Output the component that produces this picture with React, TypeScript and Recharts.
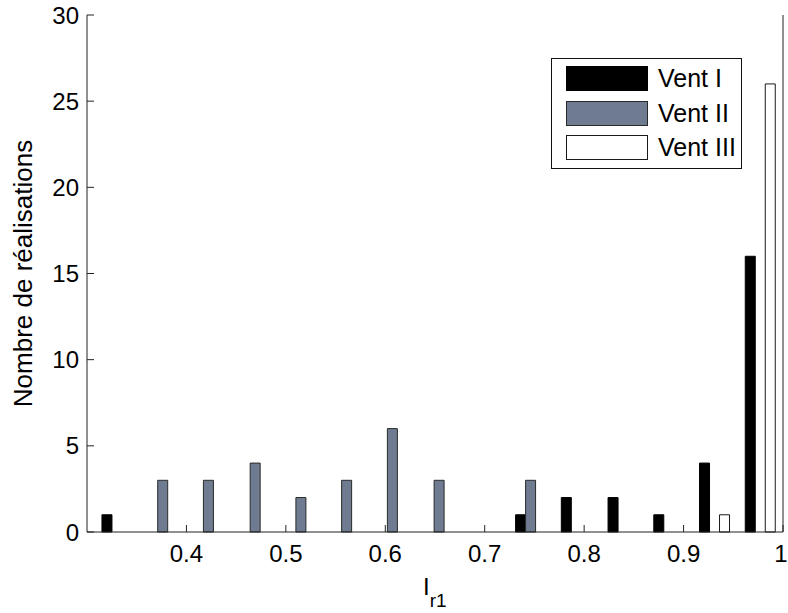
import { Bar, BarChart, Legend, XAxis, YAxis } from "recharts";

// histogram bin centres (I_r1) and counts per wind case
const binCenters = [0.33, 0.376, 0.422, 0.469, 0.515, 0.561, 0.607, 0.654, 0.7, 0.746, 0.792, 0.839, 0.885, 0.931, 0.977];
const ventI = [1, 0, 0, 0, 0, 0, 0, 0, 0, 1, 2, 2, 1, 4, 16];
const ventII = [0, 3, 3, 4, 2, 3, 6, 3, 0, 3, 0, 0, 0, 0, 0];
const ventIII = [0, 0, 0, 0, 0, 0, 0, 0, 0, 0, 0, 0, 0, 1, 26];

const xTicks = [0.4, 0.5, 0.6, 0.7, 0.8, 0.9, 1];
const yTicks = [0, 5, 10, 15, 20, 25, 30];

const SERIES = [
  { key: "v1", name: "Vent I", fill: "#000000", stroke: "#000000" },
  { key: "v2", name: "Vent II", fill: "#6f7b91", stroke: "#2a2a2a" },
  { key: "v3", name: "Vent III", fill: "#ffffff", stroke: "#1a1a1a" },
];

const data = binCenters.map((x, i) => ({ x, v1: ventI[i], v2: ventII[i], v3: ventIII[i] }));

const FONT = "'Liberation Sans', Arial, Helvetica, sans-serif";
const FS = 24;
const AXIS = "#222";
const TICK = 7;

function BottomTick({ x, y, payload }: any) {
  const v = payload.value as number;
  // keep the last label ("1") inside the 788px frame
  const tx = v === 1 ? Math.min(x, 781) : x;
  return (
    <g>
      <line x1={x} y1={y} x2={x} y2={y - TICK} stroke={AXIS} />
      <text x={tx} y={y + 30} textAnchor="middle" fontSize={FS} fontFamily={FONT} fill="#000">
        {v === 1 ? "1" : v.toFixed(1)}
      </text>
    </g>
  );
}

function TopTick({ x, y }: any) {
  return <line x1={x} y1={y} x2={x} y2={y + TICK} stroke={AXIS} />;
}

function LeftTick({ x, y, payload }: any) {
  return (
    <g>
      <line x1={x} y1={y} x2={x + TICK} y2={y} stroke={AXIS} />
      <text x={x - 8} y={y} dy="0.36em" textAnchor="end" fontSize={FS} fontFamily={FONT} fill="#000">
        {payload.value}
      </text>
    </g>
  );
}

function RightTick({ x, y }: any) {
  return <line x1={x} y1={y} x2={x - TICK} y2={y} stroke={AXIS} />;
}

function XLabel({ viewBox }: any) {
  const cx = viewBox.x + viewBox.width / 2 - 12;
  const base = viewBox.y + 63;
  return (
    <text x={cx} y={base} fontFamily={FONT} fill="#000">
      <tspan fontSize={FS}>I</tspan>
      <tspan fontSize={19} dy={12}>r1</tspan>
    </text>
  );
}

function YLabel({ viewBox }: any) {
  const cy = viewBox.y + viewBox.height / 2;
  return (
    <text
      x={32}
      y={cy}
      transform={`rotate(-90 32 ${cy})`}
      textAnchor="middle"
      fontSize={26}
      fontFamily={FONT}
      fill="#000"
    >
      Nombre de réalisations
    </text>
  );
}

function LegendBox() {
  return (
    <div
      style={{
        position: "relative",
        width: 191,
        height: 111,
        boxSizing: "border-box",
        border: "1.5px solid #111",
        background: "#fff",
        fontFamily: FONT,
      }}
    >
      {SERIES.map((s, i) => (
        <div key={s.key} style={{ position: "absolute", left: 14, top: 7 + i * 34.5, display: "flex", alignItems: "center" }}>
          <div
            style={{
              width: 82,
              height: 25,
              boxSizing: "border-box",
              background: s.fill,
              border: `1px solid ${s.stroke}`,
            }}
          />
          <span style={{ marginLeft: 10, fontSize: 25, lineHeight: "25px", color: "#000" }}>{s.name}</span>
        </div>
      ))}
    </div>
  );
}

export default function App() {
  return (
    <div style={{ position: "absolute", left: 0, top: 0, width: 788, height: 613, background: "#fff" }}>
      <BarChart
        width={788}
        height={613}
        data={data}
        margin={{ top: 15, right: 0, bottom: 0, left: 0 }}
        barGap={0}
        barSize={10}
      >
        <XAxis
          dataKey="x"
          type="number"
          domain={[0.3, 1]}
          ticks={xTicks}
          allowDataOverflow
          height={81}
          stroke={AXIS}
          tickLine={false}
          tickSize={0}
          tickMargin={0}
          tick={<BottomTick />}
          label={<XLabel />}
          interval={0}
        />
        <XAxis
          xAxisId="top"
          orientation="top"
          type="number"
          domain={[0.3, 1]}
          ticks={xTicks}
          allowDataOverflow
          height={0}
          stroke={AXIS}
          tickLine={false}
          tickSize={0}
          tickMargin={0}
          tick={<TopTick />}
          interval={0}
        />
        <YAxis
          type="number"
          domain={[0, 30]}
          ticks={yTicks}
          width={87}
          stroke={AXIS}
          tickLine={false}
          tickSize={0}
          tickMargin={0}
          tick={<LeftTick />}
          label={<YLabel />}
          interval={0}
        />
        <YAxis
          yAxisId="right"
          orientation="right"
          type="number"
          domain={[0, 30]}
          ticks={yTicks}
          width={5}
          stroke={AXIS}
          tickLine={false}
          tickSize={0}
          tickMargin={0}
          tick={<RightTick />}
          interval={0}
        />
        <Legend
          layout="vertical"
          align="center"
          verticalAlign="middle"
          content={() => <LegendBox />}
          wrapperStyle={{ left: 551, top: 58, width: 191, height: 111 }}
        />
        {SERIES.map((s) => (
          <Bar
            key={s.key}
            dataKey={s.key}
            name={s.name}
            fill={s.fill}
            stroke={s.stroke}
            strokeWidth={1}
            isAnimationActive={false}
          />
        ))}
      </BarChart>
    </div>
  );
}
